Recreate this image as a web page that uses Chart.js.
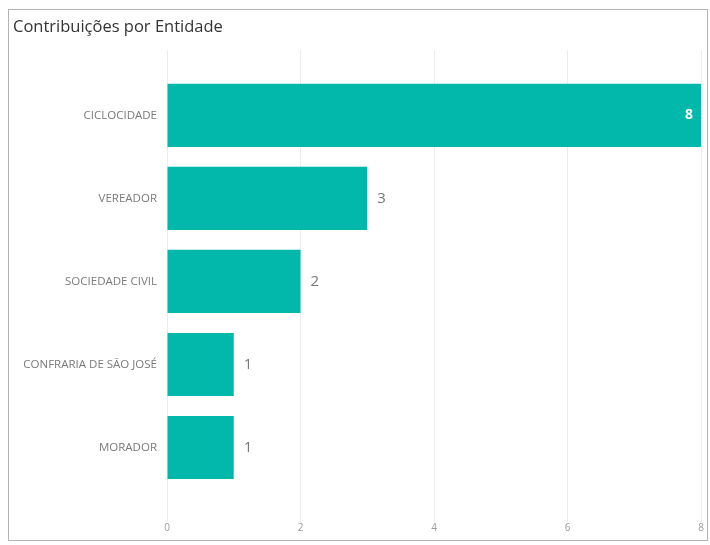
<!DOCTYPE html>
<html lang="pt">
<head>
<meta charset="UTF-8" />
<title>Contribuições por Entidade</title>
<script src="https://cdn.jsdelivr.net/npm/chart.js"></script>
<style>
  body { margin: 0; background: #fff; font-family: "Segoe UI", "Open Sans", sans-serif; }
  #frame { position: absolute; left: 8px; top: 9px; width: 700px; height: 532px; box-sizing: border-box; border: 1px solid #b4b4b4; }
  #chartBox { position: relative; width: 698px; height: 530px; }
</style>
</head>
<body>
<div id="frame">
  <div id="chartBox"><canvas id="entChart"></canvas></div>
</div>
<script>
  // dados
  const entidades = ['CICLOCIDADE', 'VEREADOR', 'SOCIEDADE CIVIL', 'CONFRARIA DE SÃO JOSÉ', 'MORADOR'];
  const contribuicoes = [8, 3, 2, 1, 1];
  const xTicks = [0, 2, 4, 6, 8];

  const teal = '#01B8AA';
  const fontFam = '"Segoe UI", "Open Sans", sans-serif';

  // rótulos de valor (dentro da barra quando cabe no fim, senão fora)
  const valueLabels = {
    id: 'valueLabels',
    afterDatasetsDraw(chart) {
      const ctx = chart.ctx;
      const meta = chart.getDatasetMeta(0);
      const area = chart.chartArea;
      ctx.save();
      ctx.textBaseline = 'middle';
      meta.data.forEach((bar, i) => {
        const v = contribuicoes[i];
        if (bar.x + 30 > area.right) {
          ctx.font = 'bold 14px ' + fontFam;
          ctx.fillStyle = '#ffffff';
          ctx.textAlign = 'right';
          ctx.fillText(String(v), bar.x - 8, bar.y);
        } else {
          ctx.font = '15px ' + fontFam;
          ctx.fillStyle = '#777777';
          ctx.textAlign = 'left';
          ctx.fillText(String(v), bar.x + 10, bar.y);
        }
      });
      ctx.restore();
    }
  };

  new Chart(document.getElementById('entChart'), {
    type: 'bar',
    data: {
      labels: entidades,
      datasets: [{
        data: contribuicoes,
        backgroundColor: teal,
        borderWidth: 0,
        barPercentage: 0.76,
        categoryPercentage: 1
      }]
    },
    plugins: [valueLabels],
    options: {
      indexAxis: 'y',
      responsive: true,
      maintainAspectRatio: false,
      animation: false,
      devicePixelRatio: 1,
      layout: { padding: { left: 4, right: 6, top: 0, bottom: 6 } },
      plugins: {
        legend: { display: false },
        tooltip: { enabled: false },
        title: {
          display: true,
          text: 'Contribuições por Entidade',
          align: 'start',
          color: '#333333',
          font: { family: fontFam, size: 16.5, weight: 'normal' },
          padding: { top: 7, bottom: 13 }
        }
      },
      scales: {
        x: {
          position: 'bottom',
          min: 0,
          max: 8,
          afterBuildTicks: s => { s.ticks = xTicks.map(v => ({ value: v })); },
          border: { display: false },
          grid: { color: '#ececec', lineWidth: 1, tickLength: 33, drawTicks: true },
          ticks: { color: '#9a9a9a', font: { family: fontFam, size: 10 }, padding: 0 }
        },
        x2: {
          position: 'top',
          axis: 'x',
          min: 0,
          max: 8,
          afterBuildTicks: s => { s.ticks = xTicks.map(v => ({ value: v })); },
          border: { display: false },
          grid: { color: '#ececec', lineWidth: 1, tickLength: 24, drawOnChartArea: false },
          ticks: { display: false, padding: 0 }
        },
        y: {
          border: { display: false },
          grid: { display: false, drawTicks: false },
          afterFit: s => { s.width = 154; },
          ticks: { color: '#7a7a7a', font: { family: fontFam, size: 11.5 }, padding: 10 }
        }
      }
    }
  });
</script>
</body>
</html>
